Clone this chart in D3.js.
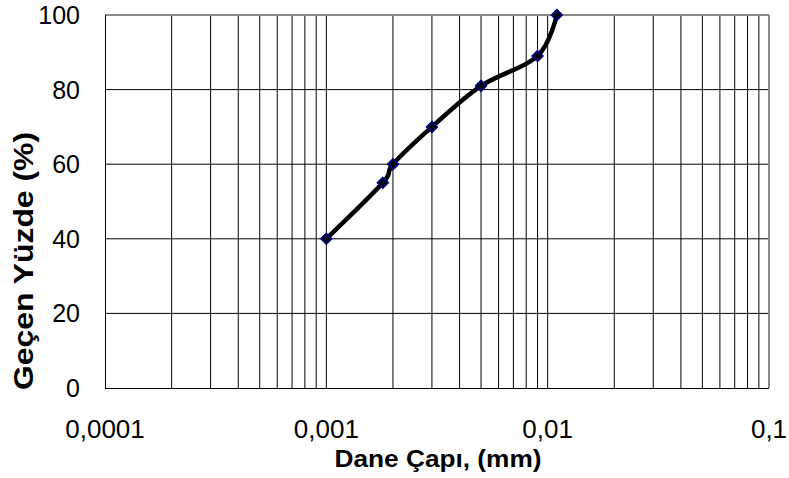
<!DOCTYPE html>
<html>
<head>
<meta charset="utf-8">
<script src="https://cdn.jsdelivr.net/npm/d3@7"></script>
<style>
  html, body { margin: 0; padding: 0; background: #fff; }
  svg { display: block; font-family: "Liberation Sans", Arial, sans-serif; }
</style>
</head>
<body>
<svg id="chart" width="789" height="478"></svg>
<script>
// Grain size distribution (hydrometer) — diameter in mm vs. percent passing
const diameters = [0.001, 0.0018, 0.002, 0.003, 0.005, 0.009, 0.011];
const percentPassing = [40, 55, 60, 70, 81, 89, 100];

const xTickValues = [0.0001, 0.001, 0.01, 0.1];
const xTickLabels = ["0,0001", "0,001", "0,01", "0,1"];
const yTickValues = [0, 20, 40, 60, 80, 100];

const xTitle = "Dane Çapı, (mm)";
const yTitle = "Geçen Yüzde (%)";

const svg = d3.select("#chart");
const plot = { left: 105, right: 769, top: 15, bottom: 388 };

const x = d3.scaleLog().domain([0.0001, 0.1]).range([plot.left, plot.right]);
const y = d3.scaleLinear().domain([0, 100]).range([plot.bottom, plot.top]);

// plot background
svg.append("rect")
  .attr("x", plot.left).attr("y", plot.top)
  .attr("width", plot.right - plot.left).attr("height", plot.bottom - plot.top)
  .attr("fill", "#fff");

// vertical grid: every 1..9 × decade
const minorX = [];
for (let e = -4; e < -1; e++) {
  for (let m = 1; m <= 9; m++) minorX.push(m * Math.pow(10, e));
}
svg.append("g").selectAll("line").data(minorX.slice(1)).join("line")
  .attr("x1", d => x(d)).attr("x2", d => x(d))
  .attr("y1", plot.top).attr("y2", plot.bottom)
  .attr("stroke", "#000").attr("stroke-width", 1);

// horizontal grid
svg.append("g").selectAll("line").data(yTickValues.slice(1)).join("line")
  .attr("x1", plot.left).attr("x2", plot.right)
  .attr("y1", d => y(d)).attr("y2", d => y(d))
  .attr("stroke", "#000").attr("stroke-width", 1);

// frame: axes in black, top/right edges softer
svg.append("line")
  .attr("x1", plot.left).attr("x2", plot.right).attr("y1", plot.top).attr("y2", plot.top)
  .attr("stroke", "#888").attr("stroke-width", 2);
svg.append("line")
  .attr("x1", plot.right).attr("x2", plot.right).attr("y1", plot.top).attr("y2", plot.bottom)
  .attr("stroke", "#888").attr("stroke-width", 2);
svg.append("line")
  .attr("x1", plot.left + 0.5).attr("x2", plot.left + 0.5).attr("y1", plot.top).attr("y2", plot.bottom)
  .attr("stroke", "#000").attr("stroke-width", 1);
svg.append("line")
  .attr("x1", plot.left).attr("x2", plot.right).attr("y1", plot.bottom + 0.5).attr("y2", plot.bottom + 0.5)
  .attr("stroke", "#000").attr("stroke-width", 1);

// y tick labels
svg.append("g").selectAll("text").data(yTickValues).join("text")
  .attr("x", 80).attr("y", d => y(d) + 9)
  .attr("text-anchor", "end")
  .attr("font-size", 25)
  .attr("fill", "#000")
  .text(d => d);

// x tick labels
svg.append("g").selectAll("text").data(xTickValues).join("text")
  .attr("x", d => x(d)).attr("y", 438)
  .attr("text-anchor", "middle")
  .attr("font-size", 26)
  .attr("fill", "#000")
  .text((d, i) => xTickLabels[i]);

// axis titles
svg.append("text")
  .attr("x", 438).attr("y", 467)
  .attr("text-anchor", "middle")
  .attr("font-size", 24).attr("font-weight", "bold")
  .attr("textLength", 207).attr("lengthAdjust", "spacingAndGlyphs")
  .text(xTitle);

svg.append("text")
  .attr("transform", "translate(33, 261) rotate(-90)")
  .attr("text-anchor", "middle")
  .attr("font-size", 27).attr("font-weight", "bold")
  .attr("textLength", 258).attr("lengthAdjust", "spacingAndGlyphs")
  .text(yTitle);

// smoothed distribution curve
const pts = diameters.map((d, i) => [d, percentPassing[i]]);
const line = d3.line()
  .x(d => x(d[0])).y(d => y(d[1]))
  .curve(d3.curveCatmullRom.alpha(0));

svg.append("path")
  .datum(pts)
  .attr("d", line)
  .attr("fill", "none")
  .attr("stroke", "#000")
  .attr("stroke-width", 4.5)
  .attr("stroke-linejoin", "round");

// markers
svg.append("g").selectAll("path").data(pts).join("path")
  .attr("transform", d => `translate(${x(d[0])},${y(d[1])})`)
  .attr("d", d3.symbol(d3.symbolDiamond2, 70))
  .attr("fill", "#000")
  .attr("stroke", "#000080")
  .attr("stroke-width", 1.8);
</script>
</body>
</html>
